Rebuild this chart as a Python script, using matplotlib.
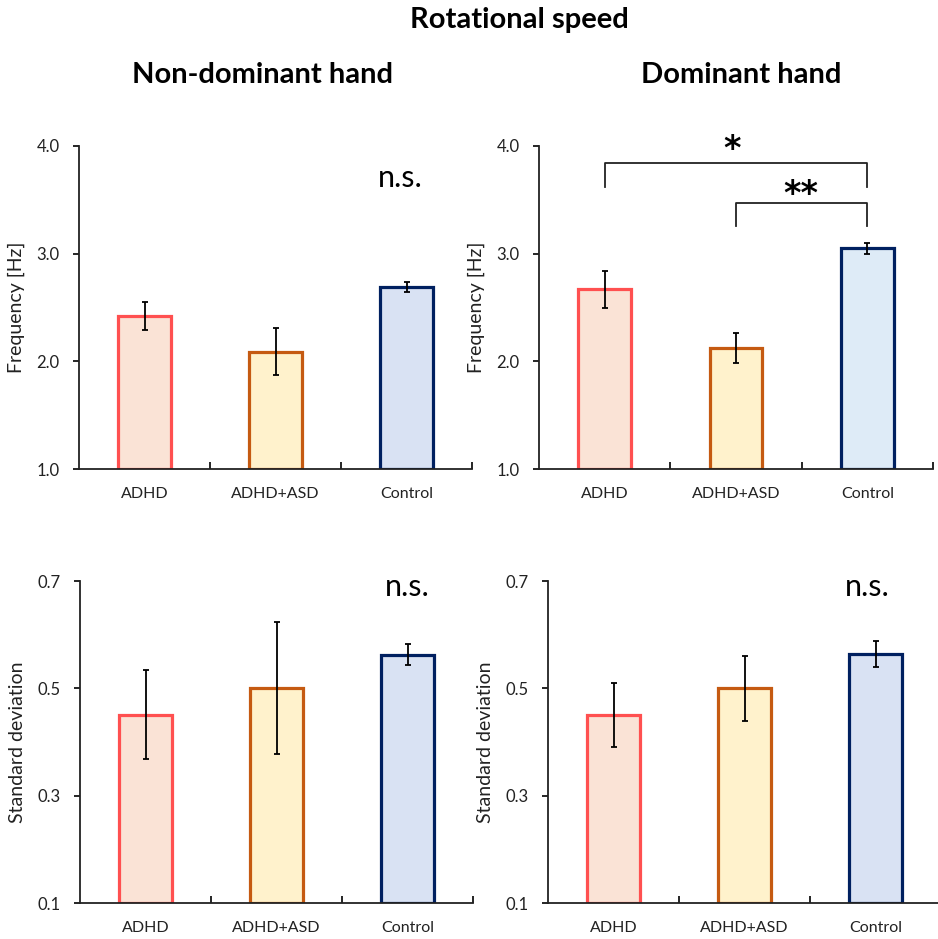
import numpy as np
import matplotlib.pyplot as plt

plt.rcParams['font.family'] = ['Lato', 'DejaVu Sans']

groups = ["ADHD", "ADHD+ASD", "Control"]

# frequency [Hz]
freq_nondom = [2.42, 2.09, 2.69]
freq_nondom_err = [0.13, 0.22, 0.045]
freq_dom = [2.67, 2.12, 3.05]
freq_dom_err = [0.17, 0.14, 0.05]

# standard deviation
sd_nondom = [0.451, 0.500, 0.563]
sd_nondom_err = [0.083, 0.123, 0.02]
sd_dom = [0.450, 0.500, 0.564]
sd_dom_err = [0.06, 0.06, 0.025]

edge_cols = ["#FF5050", "#C55A11", "#002060"]
face_cols = ["#FAE3D6", "#FFF2CC", "#D9E2F3"]
face_cols_dom_freq = ["#FAE3D6", "#FFF2CC", "#DEEBF7"]

W, H = 938, 939
fig = plt.figure(figsize=(W / 100, H / 100), dpi=100)


def make_ax(left, right, top, bottom):
    return fig.add_axes([left / W, 1 - bottom / H, (right - left) / W, (bottom - top) / H])


def draw_panel(ax, vals, errs, faces, ylim, yticks, ylabel):
    x = np.arange(len(groups))
    ax.bar(x, [v - ylim[0] for v in vals], bottom=ylim[0], width=0.4,
           color=faces, edgecolor=edge_cols, linewidth=2.3, zorder=2)
    ax.errorbar(x, vals, yerr=errs, fmt='none', ecolor='black',
                elinewidth=1.3, capsize=2.5, capthick=1.3, zorder=3)
    ax.set_xlim(-0.5, 2.5)
    ax.set_ylim(*ylim)
    ax.set_yticks(yticks)
    ax.set_yticklabels([f"{t:.1f}" for t in yticks], fontsize=12, color='#222222')
    ax.set_xticks(x)
    ax.set_xticklabels(groups, fontsize=11.5, color='#222222')
    ax.set_xticks([0.5, 1.5, 2.5], minor=True)
    ax.tick_params(axis='x', which='major', length=0, pad=13)
    ax.tick_params(axis='x', which='minor', direction='in', length=5, width=1.2)
    ax.tick_params(axis='y', direction='out', length=4, width=1.2, pad=10)
    for s in ['top', 'right']:
        ax.spines[s].set_visible(False)
    for s in ['left', 'bottom']:
        ax.spines[s].set_linewidth(1.3)
        ax.spines[s].set_color('#222222')
    ax.set_ylabel(ylabel, fontsize=14, color='#222222', labelpad=8)


ax1 = make_ax(79, 472, 146, 469)
draw_panel(ax1, freq_nondom, freq_nondom_err, face_cols, (1.0, 4.0), [1.0, 2.0, 3.0, 4.0], "Frequency [Hz]")
ax1.text(1.95, 3.70, "n.s.", fontsize=22, ha='center', va='center')

ax2 = make_ax(539, 933, 146, 469)
draw_panel(ax2, freq_dom, freq_dom_err, face_cols_dom_freq, (1.0, 4.0), [1.0, 2.0, 3.0, 4.0], "Frequency [Hz]")
ax2.plot([0, 0, 2, 2], [3.62, 3.84, 3.84, 3.62], color='#222222', lw=1.3, clip_on=False)
ax2.plot([1, 1, 2, 2], [3.26, 3.47, 3.47, 3.26], color='#222222', lw=1.3, clip_on=False)
ax2.text(0.97, 3.97, "*", fontsize=24, ha='center', va='center', family='DejaVu Sans', fontweight='bold')
ax2.text(1.49, 3.55, "**", fontsize=24, ha='center', va='center', family='DejaVu Sans', fontweight='bold')

ax3 = make_ax(80, 473, 581, 903)
draw_panel(ax3, sd_nondom, sd_nondom_err, face_cols, (0.1, 0.7), [0.1, 0.3, 0.5, 0.7], "Standard deviation")
ax3.text(2.0, 0.688, "n.s.", fontsize=22, ha='center', va='center', clip_on=False)

ax4 = make_ax(548, 941, 581, 903)
draw_panel(ax4, sd_dom, sd_dom_err, face_cols, (0.1, 0.7), [0.1, 0.3, 0.5, 0.7], "Standard deviation")
ax4.text(1.94, 0.688, "n.s.", fontsize=22, ha='center', va='center', clip_on=False)

fig.text(519 / W, 1 - 20 / H, "Rotational speed", fontsize=21, fontweight='bold', ha='center', va='center')
fig.text(262 / W, 1 - 75 / H, "Non-dominant hand", fontsize=21, fontweight='bold', ha='center', va='center')
fig.text(741 / W, 1 - 75 / H, "Dominant hand", fontsize=21, fontweight='bold', ha='center', va='center')

fig.savefig("out.png", dpi=100)
